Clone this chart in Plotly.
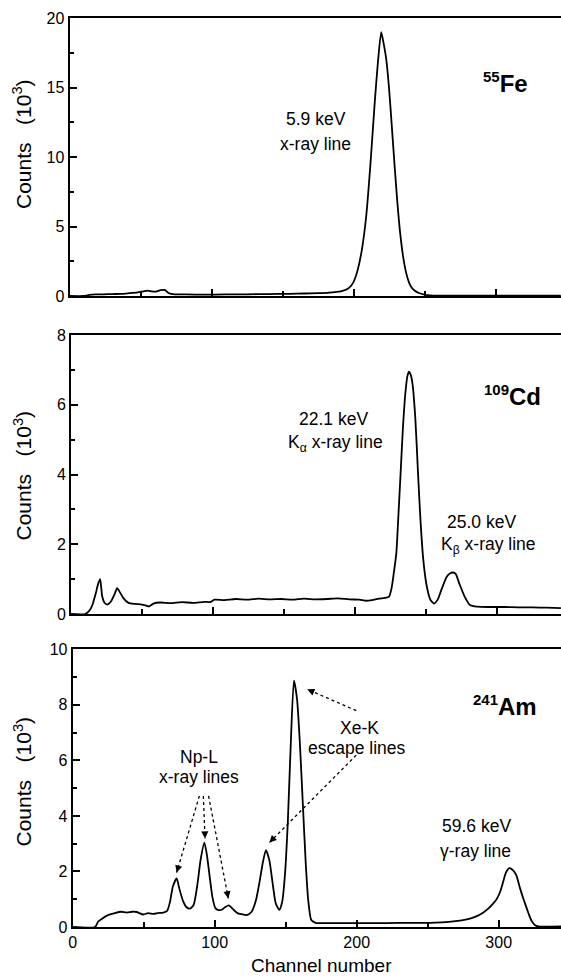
import plotly.graph_objects as go

# ---------------- data (counts in units of 10^3) ----------------
fe_channel = [0, 10, 14, 18, 24, 30, 36, 42, 48, 52, 55, 58, 61, 64, 67, 70, 74, 82, 95, 110,
              125, 140, 155, 165, 175, 183, 188, 191, 194, 197, 200, 203, 206, 209, 212, 215,
              217, 219.5, 221, 223, 225, 227, 229, 231, 233, 235, 237, 239, 241, 243, 246,
              250, 254, 260, 280, 346]
fe_counts = [0, 0, 0.08, 0.12, 0.12, 0.14, 0.15, 0.2, 0.26, 0.34, 0.39, 0.33, 0.32, 0.42, 0.44, 0.2,
             0.12, 0.11, 0.1, 0.11, 0.12, 0.14, 0.16, 0.18, 0.21, 0.25, 0.3, 0.34, 0.42, 0.6,
             1.0, 1.9, 3.4, 5.8, 9.6, 14.0, 16.6, 19.0, 18.3, 17.1, 15.0, 12.2, 9.3, 6.6,
             4.4, 2.8, 1.7, 1.0, 0.6, 0.4, 0.22, 0.1, 0.04, 0.02, 0.02, 0.02]

cd_channel = [0, 10, 13, 15, 17.5, 19, 20.5, 22, 23.5, 25.5, 28, 30.5, 32.5, 34.5, 37, 40.5, 45,
              50, 53, 55, 58, 63, 70, 78, 86, 94, 98, 101, 108, 116, 124, 132, 140, 148,
              156, 164, 172, 180, 188, 196, 203, 208, 212, 217, 221, 224, 225.8, 227.3, 229.1,
              230.4, 232.2, 233.7, 235.4, 236.8, 238, 239.3, 240.5, 242.5, 244.3, 246.1,
              248.1, 250.6, 253.2, 255.7, 258.3, 260.8, 264.6, 267.1, 269, 270.9, 273.4,
              277.2, 281, 286, 295, 305, 315, 325, 335, 345]
cd_counts = [0, 0, 0.1, 0.25, 0.6, 0.85, 1.0, 0.5, 0.33, 0.27, 0.35, 0.55, 0.74, 0.62, 0.45, 0.32, 0.29,
             0.27, 0.24, 0.22, 0.3, 0.33, 0.31, 0.34, 0.32, 0.35, 0.34, 0.41, 0.4, 0.43, 0.41,
             0.44, 0.42, 0.43, 0.41, 0.44, 0.42, 0.43, 0.45, 0.42, 0.41, 0.38, 0.4, 0.44,
             0.46, 0.5, 0.75, 1.17, 1.74, 2.7, 4.1, 5.3, 6.3, 6.8, 6.95, 6.85, 6.6, 5.6, 4.1,
             2.7, 1.55, 0.78, 0.4, 0.3, 0.42, 0.69, 1.07, 1.17, 1.19, 1.15, 0.88, 0.5, 0.26,
             0.21, 0.2, 0.2, 0.19, 0.19, 0.18, 0.17]

am_channel = [0, 15.7, 18, 20.7, 24.5, 29.6, 34, 38, 42, 45, 49.8, 53, 57, 60, 63.8, 66.5, 68.5,
              70.5, 73.2, 75, 77.6, 80, 82.6, 85.2, 88, 90, 92.7, 94.5, 96.5, 98.5, 100.5,
              102.6, 105, 107.5, 110, 112.5, 116, 119, 122.5, 126, 129, 131.5, 134, 136.1,
              138.5, 141, 143, 145.5, 147.5, 149.5, 151.5, 153.5, 155.8, 158, 160, 162,
              164, 165.8, 168, 171, 185, 200, 220, 240, 251.6, 260, 268, 274, 279.8, 285,
              289.2, 293, 296.2, 298.5, 300.9, 303, 305, 307.5, 310, 312.5, 315, 317.5,
              319.7, 321.5, 323.2, 325.6, 328, 344]
am_counts = [0, 0, 0.2, 0.3, 0.42, 0.5, 0.55, 0.52, 0.55, 0.54, 0.45, 0.5, 0.47, 0.5, 0.52, 0.58, 0.9,
             1.45, 1.75, 1.4, 0.95, 0.72, 0.66, 0.8, 1.6, 2.4, 3.04, 2.6, 1.8, 1.05, 0.68,
             0.61, 0.62, 0.72, 0.78, 0.66, 0.5, 0.46, 0.43, 0.55, 0.95, 1.6, 2.35, 2.77,
             2.4, 1.5, 0.85, 0.62, 0.9, 1.9, 3.8, 6.5, 8.87, 8.2, 6.6, 4.5, 2.4, 1.0, 0.25,
             0.15, 0.14, 0.14, 0.14, 0.15, 0.15, 0.17, 0.2, 0.24, 0.3, 0.4, 0.52, 0.68, 0.85,
             1.0, 1.25, 1.6, 1.95, 2.12, 2.05, 1.85, 1.4, 1.0, 0.68, 0.42, 0.22, 0.06, 0.02, 0.02]

x_tick_values = [0, 100, 200, 300]
x_tick_labels = ["0", "100", "200", "300"]

# ---------------- figure ----------------
W, H = 561, 977
FONT = "Liberation Sans, Arial, Helvetica, sans-serif"
fig = go.Figure()

def py(p):  # pixel row -> paper y
    return 1 - p / H

def px(p):  # pixel column -> paper x
    return p / W

panels = [
    # (xaxis, yaxis, x-left px, top px, bottom px, y range, dtick, channels, counts)
    ("x", "y", 69.5, 18.3, 296.0, 20, 5, fe_channel, fe_counts),
    ("x2", "y2", 71.0, 335.0, 614.0, 8, 2, cd_channel, cd_counts),
    ("x3", "y3", 72.7, 649.3, 927.0, 10, 2, am_channel, am_counts),
]
PX_PER_CH = 1.42

for i, (xa, ya, xl, top, bot, ymax, dt, chs, cts) in enumerate(panels):
    fig.add_trace(go.Scatter(x=chs, y=cts, mode="lines", xaxis=xa, yaxis=ya,
                             line=dict(color="black", width=1.8, shape="spline", smoothing=0.6),
                             showlegend=False, hoverinfo="skip"))
    xkey = "xaxis" if i == 0 else f"xaxis{i+1}"
    ykey = "yaxis" if i == 0 else f"yaxis{i+1}"
    fig.layout[xkey] = dict(
        domain=[px(xl), 1], range=[0, (W - xl) / PX_PER_CH], anchor=ya,
        showline=True, mirror=True, linecolor="black", linewidth=2,
        ticks="inside", ticklen=7, tickwidth=1.5, tickcolor="black",
        tickvals=x_tick_values, ticktext=x_tick_labels, showticklabels=(i == 2),
        tickfont=dict(family=FONT, size=16, color="black"),
        minor=dict(dtick=50, tick0=0, ticks="inside", ticklen=5, tickwidth=1.5, tickcolor="black"),
        showgrid=False, zeroline=False, automargin=False,
    )
    fig.layout[ykey] = dict(
        domain=[py(bot), py(top)], range=[0, ymax], anchor=xa,
        showline=True, mirror=False, linecolor="black", linewidth=2,
        ticks="inside", ticklen=7, tickwidth=1.5, tickcolor="black", dtick=dt, tick0=0,
        tickfont=dict(family=FONT, size=16, color="black"),
        minor=dict(dtick=dt / 2, tick0=0, ticks="inside", ticklen=4, tickwidth=1.5, tickcolor="black"),
        showgrid=False, zeroline=False, automargin=False,
    )

annotations = []

def txt(t, x, y, size=17.5, bold=False, xanchor="center", angle=0):
    annotations.append(dict(text=(f"<b>{t}</b>" if bold else t), x=px(x), y=py(y),
                            xref="paper", yref="paper", showarrow=False,
                            xanchor=xanchor, yanchor="middle", textangle=angle,
                            font=dict(family=FONT, size=size, color="black")))

# y-axis titles
ytitle = "Counts\u00a0\u00a0\u00a0(10<sup>3</sup>)"
txt(ytitle, 22, 144, size=21, angle=-90)
txt(ytitle, 22, 475.5, size=21, angle=-90)
txt(ytitle, 22, 781.5, size=21, angle=-90)
# x-axis title
txt("Channel number", 321, 965, size=19)

# Fe panel
txt("5.9 keV", 315.5, 119.5)
txt("x-ray line", 315, 144)
txt("<sup><span style='font-size:15px'>55</span></sup>Fe", 481, 82, size=24, bold=True, xanchor="left")
# Cd panel
txt("22.1 keV", 333, 419)
txt("K<sub>\u03b1</sub> x-ray line", 335.5, 443)
txt("25.0 keV", 481.5, 521.5)
txt("K<sub>\u03b2</sub> x-ray line", 488, 545)
txt("<sup><span style='font-size:15px'>109</span></sup>Cd", 482, 395, size=24, bold=True, xanchor="left")
# Am panel
txt("Np-L", 198.5, 756.5)
txt("x-ray lines", 199, 776.5)
txt("Xe-K", 359.5, 728)
txt("escape lines", 357, 747.5)
txt("<sup><span style='font-size:15px'>241</span></sup>Am", 471, 705, size=24, bold=True, xanchor="left")
txt("59.6 keV", 476, 826)
txt("\u03b3-ray line", 475.5, 851)

# dotted arrows in the Am panel: (tail ch, tail val, head ch, head val, head dx, head dy)
arrows = [
    (89.2, 4.72, 73.2, 1.96, 2.3, -7.7),
    (92.0, 4.72, 93.2, 3.19, -0.3, -8.0),
    (95.7, 4.72, 109.6, 1.03, -1.5, -7.9),
    (199.7, 7.79, 165.2, 8.56, 7.3, 3.2),
    (199.7, 6.19, 138.5, 3.04, 5.6, -5.7),
]
shapes = []
for tx, ty, hx, hy, dx, dy in arrows:
    shapes.append(dict(type="line", xref="x3", yref="y3", x0=tx, y0=ty, x1=hx, y1=hy,
                       line=dict(color="black", width=1.3, dash="dot")))
    annotations.append(dict(text="", x=hx, y=hy, xref="x3", yref="y3", showarrow=True,
                            ax=dx, ay=dy, arrowhead=2, arrowsize=1.1, arrowwidth=1.3,
                            arrowcolor="black", standoff=0))

fig.update_layout(
    width=W, height=H, autosize=False,
    margin=dict(l=0, r=0, t=0, b=0),
    paper_bgcolor="white", plot_bgcolor="white",
    annotations=annotations, shapes=shapes,
    font=dict(family=FONT, color="black"),
)

fig.write_html("out.html")
